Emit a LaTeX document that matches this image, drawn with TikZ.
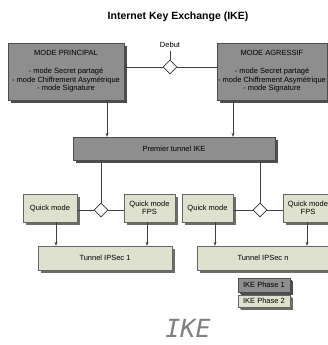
\documentclass[tikz,border=0pt]{standalone}
\usepackage{fontspec}
\setmainfont{Liberation Sans}
\newfontfamily\ikefont{DejaVu Sans Mono}
\usetikzlibrary{shadows,shapes.geometric,arrows.meta}
\definecolor{darkbox}{HTML}{8E8E8E}
\definecolor{lightbox}{HTML}{DEE1CD}
\definecolor{darkshadow}{HTML}{4E4E4E}
\definecolor{lightshadow}{HTML}{6E6E66}
\definecolor{ikegray}{HTML}{808080}
\begin{document}
\begin{tikzpicture}[x=1pt,y=-1pt,
  every node/.style={font=\fontsize{7.5}{8.6}\selectfont, inner sep=0pt},
  graybox/.style={rectangle, draw=black!70, line width=0.4pt, fill=darkbox, align=center,
    drop shadow={shadow xshift=3pt, shadow yshift=-3pt, fill=darkshadow, opacity=1}},
  lightbx/.style={rectangle, draw=black!60, line width=0.4pt, fill=lightbox, align=center,
    drop shadow={shadow xshift=3pt, shadow yshift=-3pt, fill=lightshadow, opacity=1}},
  dmd/.style={diamond, draw=black!80, line width=0.6pt, fill=white, minimum width=14pt, minimum height=14pt, inner sep=0pt},
  conn/.style={draw=black!75, line width=0.6pt},
  arr/.style={conn, -{Stealth[length=4pt,width=3pt]}}
]
\clip (0,0) rectangle (328,345);
\useasboundingbox (0,0) rectangle (328,345);
\fill[white] (0,0) rectangle (328,345);

\node[font=\bfseries\fontsize{10.5}{12}\selectfont] (title) at (178,17) {Internet Key Exchange (IKE)};

\node[graybox, minimum width=116pt, minimum height=57pt] (mp) at (66,71.5)
  {MODE PRINCIPAL\\[9pt]- mode Secret partagé\\- mode Chiffrement Asymétrique\\- mode Signature};
\node[graybox, minimum width=110pt, minimum height=57pt] (ma) at (272,71.5)
  {MODE AGRESSIF\\[9pt]- mode Secret partagé\\- mode Chiffrement Asymétrique\\- mode Signature};

\node[dmd] (d0) at (170,67) {};
\node (debut) at (170,45) {Debut};
\coordinate (dtop) at (170,51);
\draw[conn] (mp.east |- d0) -- (d0.west);
\draw[conn] (d0.east) -- (ma.west |- d0);
\draw[conn] (d0.north) -- (dtop);

\node[graybox, minimum width=202pt, minimum height=23pt] (pt) at (174,148.5) {Premier tunnel IKE};

\coordinate (xa) at (107,0);
\coordinate (xb) at (233,0);
\draw[arr] (mp.south -| xa) -- (pt.north -| xa);
\draw[arr] (ma.south -| xb) -- (pt.north -| xb);

\node[dmd] (d1) at (101,210) {};
\node[dmd] (d2) at (260,210) {};
\draw[conn] (pt.south -| d1) -- (d1.north);
\draw[conn] (pt.south -| d2) -- (d2.north);

\node[lightbx, minimum width=54pt, minimum height=28pt] (qm1) at (50,208) {Quick mode};
\node[lightbx, minimum width=51pt, minimum height=28pt] (qf1) at (149.5,208) {Quick mode\\FPS};
\node[lightbx, minimum width=51pt, minimum height=28pt] (qm2) at (207.5,208) {Quick mode};
\node[lightbx, minimum width=50pt, minimum height=28pt] (qf2) at (308,208) {Quick mode\\FPS};

\draw[conn] (qm1.east |- d1) -- (d1.west);
\draw[conn] (d1.east) -- (qf1.west |- d1);
\draw[conn] (qm2.east |- d2) -- (d2.west);
\draw[conn] (d2.east) -- (qf2.west |- d2);

\node[lightbx, minimum width=134pt, minimum height=24pt] (t1) at (105,258) {Tunnel IPSec 1};
\node[lightbx, minimum width=132pt, minimum height=24pt] (tn) at (263,258) {Tunnel IPSec n};

\coordinate (x1) at (56,0);
\coordinate (x2) at (147,0);
\coordinate (x3) at (215,0);
\coordinate (x4) at (307,0);
\draw[arr] (qm1.south -| x1) -- (t1.north -| x1);
\draw[arr] (qf1.south -| x2) -- (t1.north -| x2);
\draw[arr] (qm2.south -| x3) -- (tn.north -| x3);
\draw[arr] (qf2.south -| x4) -- (tn.north -| x4);

\node[graybox, minimum width=52pt, minimum height=14pt, drop shadow={shadow xshift=2pt, shadow yshift=-2pt, fill=darkshadow, opacity=1}] (l1) at (264,285) {IKE Phase 1};
\node[lightbx, minimum width=52pt, minimum height=12pt, drop shadow={shadow xshift=2pt, shadow yshift=-2pt, fill=lightshadow, opacity=1}] (l2) at (264,301) {IKE Phase 2};

\node[font=\ikefont\itshape\fontsize{25}{28}\selectfont, text=ikegray] (ike) at (188,328) {IKE};
\end{tikzpicture}
\end{document}
